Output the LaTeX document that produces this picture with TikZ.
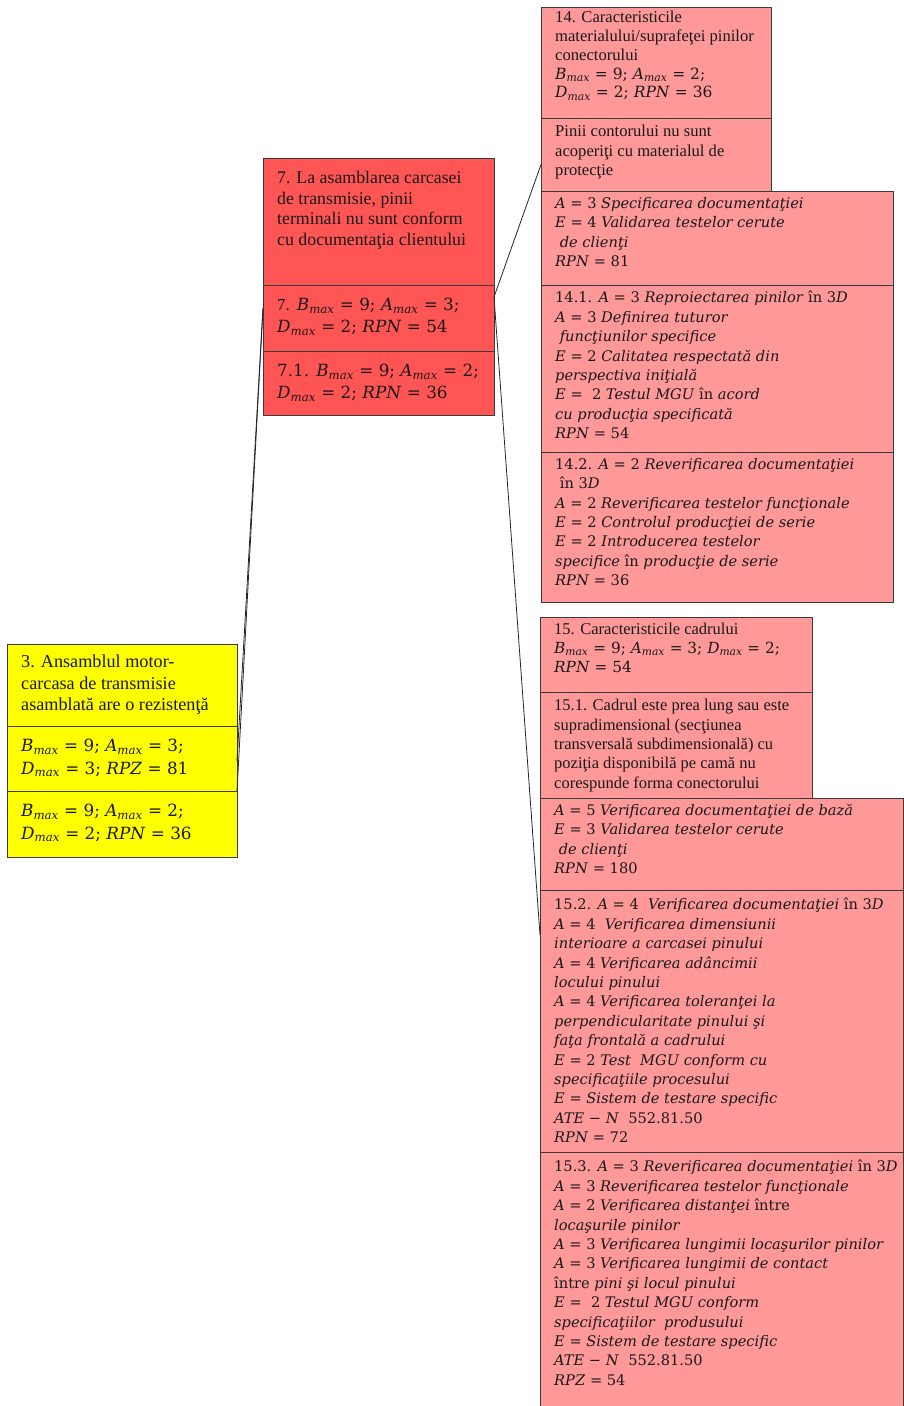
\documentclass[tikz,border=0pt]{standalone}
\usepackage{fontspec}
\setmainfont{Liberation Serif}
\newfontfamily\mathfont{DejaVu Serif}
\definecolor{yellowbox}{HTML}{FFFF00}
\definecolor{redbox}{HTML}{FF5555}
\definecolor{pinkbox}{HTML}{FF9999}
\definecolor{edge}{HTML}{3A3A3A}
% italic variable and variable with "max" index
\newcommand\iv[1]{\textit{#1}}
\newcommand\mv[1]{\textit{#1}\textsubscript{\textit{max}}}
% one framed section: name, x, y, width, height, fill, font, text-drop, text
\newcommand\sect[9]{%
  \node[sec, fill=#6, minimum width=#4pt, minimum height=#5pt] (#1) at (#2,#3) {};
  \node[txt, font=#7] (#1-t) at ([xshift=14pt,yshift=-#8pt]#1.north west) {#9};}
\begin{document}
\begin{tikzpicture}[x=1pt,y=-1pt,
  sec/.style={draw=edge, line width=0.9pt, anchor=north west, inner sep=0pt, outer sep=0pt},
  txt/.style={anchor=north west, inner sep=0pt, align=left, text=black!90},
  link/.style={draw=black!85, line width=0.8pt}]
\useasboundingbox (0,0) rectangle (904,1406);

% ---- left: assembly (yellow)
\sect{y1}{7}{644}{230}{82}{yellowbox}{\fontsize{18.2}{21.5}\selectfont}{11}
 {3. Ansamblul motor-\\carcasa de transmisie\\asamblată are o rezistenţă}
\sect{y2}{7}{726}{230}{65}{yellowbox}{\mathfont\fontsize{16.8}{22.5}\selectfont}{13}
 {\mv{B} = 9; \mv{A} = 3;\\\mv{D} = 3; \iv{RPZ} = 81}
\sect{y3}{7}{791}{230}{66}{yellowbox}{\mathfont\fontsize{16.8}{22.5}\selectfont}{13}
 {\mv{B} = 9; \mv{A} = 2;\\\mv{D} = 2; \iv{RPN} = 36}

% ---- middle: failure 7 (red)
\sect{r1}{263}{158}{231}{127}{redbox}{\fontsize{17.8}{20.5}\selectfont}{13}
 {7. La asamblarea carcasei\\de transmisie, pinii\\terminali nu sunt conform\\cu documentaţia clientului}
\sect{r2}{263}{285}{231}{66}{redbox}{\mathfont\fontsize{16.8}{22}\selectfont}{13}
 {{\rmfamily 7.} \mv{B} = 9; \mv{A} = 3;\\\mv{D} = 2; \iv{RPN} = 54}
\sect{r3}{263}{351}{231}{64}{redbox}{\mathfont\fontsize{16.8}{22}\selectfont}{13}
 {7.1. \mv{B} = 9; \mv{A} = 2;\\\mv{D} = 2; \iv{RPN} = 36}

% ---- right, upper branch: item 14
\sect{a1}{541}{7}{230}{111}{pinkbox}{\fontsize{16.6}{18.8}\selectfont}{4}
 {14. Caracteristicile\\materialului/suprafeţei pinilor\\conectorului\\
  {\mathfont\fontsize{15.5}{18.8}\selectfont\mv{B} = 9; \mv{A} = 2;}\\
  {\mathfont\fontsize{15.5}{18.8}\selectfont\mv{D} = 2; \iv{RPN} = 36}}
\sect{a2}{541}{118}{230}{73}{pinkbox}{\fontsize{16.6}{19.4}\selectfont}{7}
 {Pinii contorului nu sunt\\acoperiţi cu materialul de\\protecţie}
\sect{a3}{541}{191}{352}{94}{pinkbox}{\mathfont\fontsize{14.6}{19.4}\selectfont}{6}
 {\iv{A} = 3 \iv{Specificarea documentaţiei}\\
  \iv{E} = 4 \iv{Validarea testelor cerute}\\
  \iv{\ de clienţi}\\
  \iv{RPN} = 81}
\sect{a4}{541}{285}{352}{167}{pinkbox}{\mathfont\fontsize{14.6}{19.4}\selectfont}{6}
 {14.1. \iv{A} = 3 \iv{Reproiectarea pinilor} în 3\iv{D}\\
  \iv{A} = 3 \iv{Definirea tuturor}\\
  \iv{\ funcţiunilor specifice}\\
  \iv{E} = 2 \iv{Calitatea respectată din}\\
  \iv{perspectiva iniţială}\\
  \iv{E} = \ 2 \iv{Testul MGU} în \iv{acord}\\
  \iv{cu producţia specificată}\\
  \iv{RPN} = 54}
\sect{a5}{541}{452}{352}{150}{pinkbox}{\mathfont\fontsize{14.6}{19.4}\selectfont}{6}
 {14.2. \iv{A} = 2 \iv{Reverificarea documentaţiei}\\
  \ în 3\iv{D}\\
  \iv{A} = 2 \iv{Reverificarea testelor funcţionale}\\
  \iv{E} = 2 \iv{Controlul producţiei de serie}\\
  \iv{E} = 2 \iv{Introducerea testelor}\\
  \iv{specifice} în \iv{producţie de serie}\\
  \iv{RPN} = 36}

% ---- right, lower branch: item 15
\sect{b1}{540}{617}{272}{75}{pinkbox}{\fontsize{16.5}{19}\selectfont}{6}
 {15. Caracteristicile cadrului\\
  {\mathfont\fontsize{15.3}{19}\selectfont\mv{B} = 9; \mv{A} = 3; \mv{D} = 2;}\\
  {\mathfont\fontsize{15.3}{19}\selectfont\iv{RPN} = 54}}
\sect{b2}{540}{692}{272}{106}{pinkbox}{\fontsize{16.5}{19.4}\selectfont}{7}
 {15.1. Cadrul este prea lung sau este\\supradimensional (secţiunea\\transversală subdimensională) cu\\poziţia disponibilă pe camă nu\\corespunde forma conectorului}
\sect{b3}{540}{798}{363}{92}{pinkbox}{\mathfont\fontsize{14.6}{19.4}\selectfont}{6}
 {\iv{A} = 5 \iv{Verificarea documentaţiei de bază}\\
  \iv{E} = 3 \iv{Validarea testelor cerute}\\
  \iv{\ de clienţi}\\
  \iv{RPN} = 180}
\sect{b4}{540}{890}{363}{262}{pinkbox}{\mathfont\fontsize{14.6}{19.4}\selectfont}{8}
 {15.2. \iv{A} = 4 \ \iv{Verificarea documentaţiei} în 3\iv{D}\\
  \iv{A} = 4 \ \iv{Verificarea dimensiunii}\\
  \iv{interioare a carcasei pinului}\\
  \iv{A} = 4 \iv{Verificarea adâncimii}\\
  \iv{locului pinului}\\
  \iv{A} = 4 \iv{Verificarea toleranţei la}\\
  \iv{perpendicularitate pinului şi}\\
  \iv{faţa frontală a cadrului}\\
  \iv{E} = 2 \iv{Test \ MGU conform cu}\\
  \iv{specificaţiile procesului}\\
  \iv{E} = \iv{Sistem de testare specific}\\
  \iv{ATE} − \iv{N} \ 552.81.50\\
  \iv{RPN} = 72}
\sect{b5}{540}{1152}{363}{256}{pinkbox}{\mathfont\fontsize{14.6}{19.4}\selectfont}{8}
 {15.3. \iv{A} = 3 \iv{Reverificarea documentaţiei} în 3\iv{D}\\
  \iv{A} = 3 \iv{Reverificarea testelor funcţionale}\\
  \iv{A} = 2 \iv{Verificarea distanţei} între\\
  \iv{locaşurile pinilor}\\
  \iv{A} = 3 \iv{Verificarea lungimii locaşurilor pinilor}\\
  \iv{A} = 3 \iv{Verificarea lungimii de contact}\\
  între \iv{pini şi locul pinului}\\
  \iv{E} = \ 2 \iv{Testul MGU conform}\\
  \iv{specificaţiilor \ produsului}\\
  \iv{E} = \iv{Sistem de testare specific}\\
  \iv{ATE} − \iv{N} \ 552.81.50\\
  \iv{RPZ} = 54}

% ---- connecting lines
\draw[link] ([yshift=10pt]r2.west) -- ([yshift=30pt]y2.south east);
\draw[link] ([yshift=10pt]r2.west) -- (y2.south east);
\draw[link] ([yshift=-12pt]r2.north east) -- ([yshift=-10pt]a2.west);
\draw[link] ([yshift=-12pt]r2.north east) -- ([yshift=-45pt]b4.north west);
\end{tikzpicture}
\end{document}
